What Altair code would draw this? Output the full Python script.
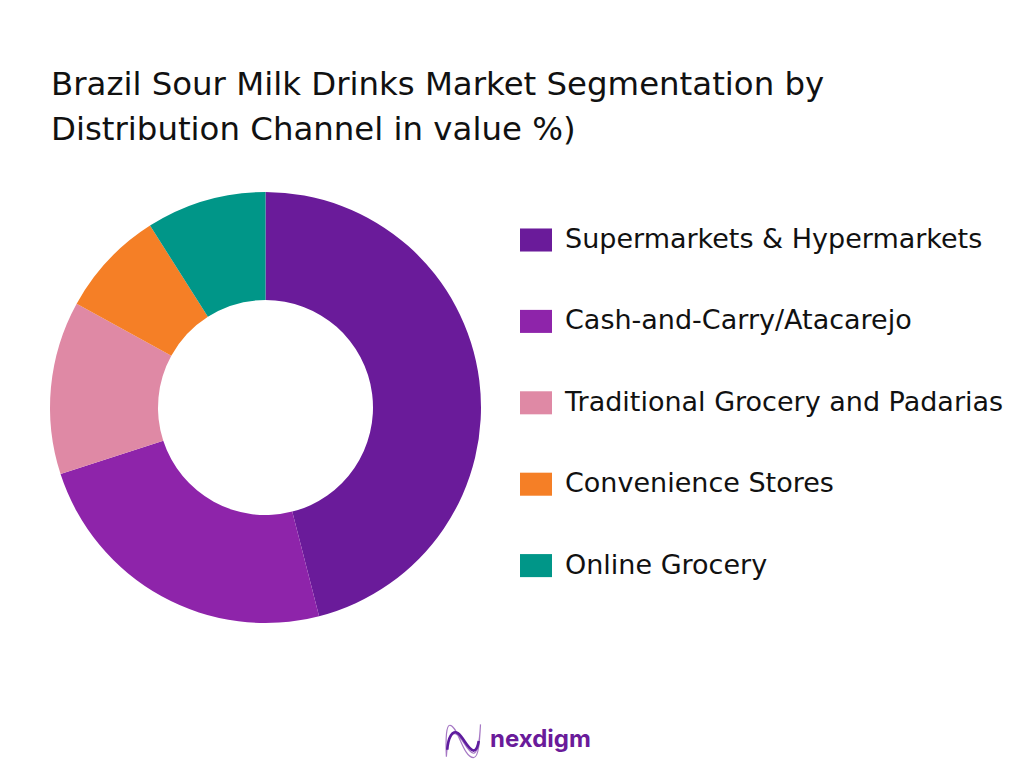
import altair as alt
import pandas as pd

channels = [
    "Supermarkets & Hypermarkets",
    "Cash-and-Carry/Atacarejo",
    "Traditional Grocery and Padarias",
    "Convenience Stores",
    "Online Grocery",
]
shares = [46, 24, 13, 8, 9]
colors = ["#6A1B9A", "#8E24AA", "#DF89A5", "#F57F26", "#009688"]
title_lines = [
    "Brazil Sour Milk Drinks Market Segmentation by",
    "Distribution Channel in value %)",
]
FONT = "DejaVu Sans"
SWATCH = "M-1,-0.72H1V0.72H-1Z"
LOGO_THIN = (
    "M-0.95,0.9C-1,-0.2 -0.95,-0.9 -0.75,-0.9C-0.3,-0.9 0,0.95 0.6,0.95C0.9,0.95 0.95,0 1,-0.95"
    "M-0.95,0.9C-0.9,0 -0.7,-0.55 -0.4,-0.4C0,-0.2 0.2,0.6 0.6,0.7C0.85,0.7 0.95,0 1,-0.95"
)
LOGO_DARK = "M-0.9,0.5C-0.85,-0.2 -0.6,-0.65 -0.3,-0.45C0.05,-0.2 0.25,0.45 0.6,0.55C0.75,0.55 0.85,0.3 0.9,0"

df = pd.DataFrame({"channel": channels, "share": shares, "rank": range(len(channels))})
brand = pd.DataFrame({"brand": ["nexdigm"]})

donut = alt.Chart(df).mark_arc(radius=215.5, radius2=107.5, stroke=None).encode(
    x=alt.value(257.5),
    y=alt.value(399.5),
    theta=alt.Theta("share:Q", stack=True),
    order=alt.Order("rank:Q"),
    color=alt.Color(
        "channel:N",
        scale=alt.Scale(domain=channels, range=colors),
        legend=alt.Legend(
            orient="none",
            legendX=512,
            legendY=216,
            title=None,
            symbolType=SWATCH,
            symbolSize=1024,
            symbolStrokeWidth=0,
            symbolOpacity=1,
            labelFont=FONT,
            labelFontSize=27,
            labelColor="#111111",
            labelOffset=13,
            labelLimit=460,
            rowPadding=52.4,
        ),
    ),
)

logo_thin = alt.Chart(brand).mark_point(
    shape=LOGO_THIN, size=1225, filled=False, stroke="#A678C4", strokeWidth=1.2, opacity=1
).encode(x=alt.value(455), y=alt.value(733))

logo_dark = alt.Chart(brand).mark_point(
    shape=LOGO_DARK, size=1225, filled=False, stroke="#5E1C9E", strokeWidth=2.6, opacity=1
).encode(x=alt.value(455), y=alt.value(733))

logo_text = alt.Chart(brand).mark_text(
    font="Inter", fontSize=24, fontWeight=700, color="#6A1B9A", align="left", baseline="middle"
).encode(x=alt.value(482), y=alt.value(732), text="brand:N")

chart = alt.layer(donut, logo_thin, logo_dark, logo_text).properties(
    width=1008,
    height=752,
    padding=0,
    autosize=alt.AutoSizeParams(type="none"),
    background="white",
    title=alt.TitleParams(
        text=title_lines,
        anchor="start",
        frame="group",
        font=FONT,
        fontSize=32.4,
        fontWeight=400,
        color="#111111",
        baseline="top",
        lineHeight=45,
        dx=43,
        dy=142.5,
    ),
).configure_view(stroke=None)

chart.save("out.html", embed_options={"renderer": "svg", "actions": False})
